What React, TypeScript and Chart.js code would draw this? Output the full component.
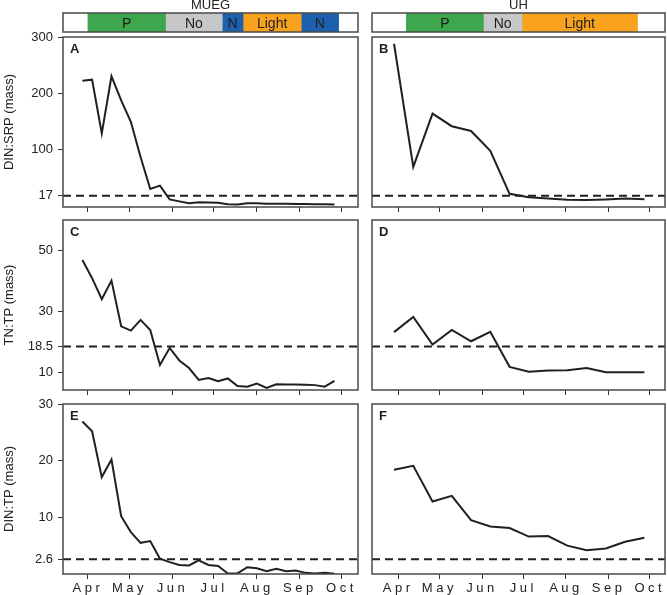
import React, { useEffect, useRef } from 'react';
import { Chart, registerables } from 'chart.js';

Chart.register(...registerables);

const FONT = "'Liberation Sans', Arial, sans-serif";
Chart.defaults.font.family = FONT;

// ---------- helpers (day offset from 1 April) ----------
const MONTH_START: Record<string, number> = { '03': -31, '04': 0, '05': 30, '06': 61, '07': 91, '08': 122, '09': 153, '10': 183 };
const day = (md: string) => MONTH_START[md.slice(0, 2)] + parseInt(md.slice(3), 10) - 1;

// ---------- axes ----------
const MONTH_TICK_DATES = ['04-01', '05-01', '06-01', '07-01', '08-01', '09-01', '10-01'];
const MONTH_LABELS = ['Apr', 'May', 'Jun', 'Jul', 'Aug', 'Sep', 'Oct'];
const MUEG_X_RANGE: [string, string] = ['03-14', '10-13'];
const UH_X_RANGE: [string, string] = ['03-13', '10-12'];

const SRP_TICKS = [17, 100, 200, 300];
const SRP_TICK_LABELS = ['17', '100', '200', '300'];
const TNTP_TICKS = [10, 18.5, 30, 50];
const TNTP_TICK_LABELS = ['10', '18.5', '30', '50'];
const DINTP_TICKS = [2.6, 10, 20, 30];
const DINTP_TICK_LABELS = ['2.6', '10', '20', '30'];

const SRP_RANGE: [number, number] = [-3, 300];
const TNTP_RANGE: [number, number] = [4.2, 60];
const DINTP_RANGE: [number, number] = [0, 30];

const SRP_THRESHOLD = 17;
const TNTP_THRESHOLD = 18.5;
const DINTP_THRESHOLD = 2.6;

// ---------- sampling dates ----------
const MUEG_DATES = ['03-28', '04-04', '04-11', '04-18', '04-25', '05-02', '05-09', '05-16', '05-23', '05-30',
  '06-06', '06-13', '06-20', '06-27', '07-04', '07-11', '07-18', '07-25', '08-01', '08-08', '08-15', '08-22',
  '08-29', '09-05', '09-12', '09-19', '09-26'];
const UH_DATES = ['03-29', '04-12', '04-26', '05-10', '05-24', '06-07', '06-21', '07-05', '07-19', '08-02',
  '08-16', '08-30', '09-13', '09-27'];

// ---------- series ----------
const MUEG_DIN_SRP = [222, 224, 128, 230, 187, 149, 86, 29, 35, 10.5, 7, 3.5, 5.5, 5, 4.5, 2, 1.5, 3.5, 3.5, 3, 3, 3, 2.5, 2.5, 2, 2, 1.5];
const UH_DIN_SRP = [288, 68.5, 163.5, 141, 132.5, 97, 20.5, 14.5, 12, 10, 9.5, 10.5, 12, 11];
const MUEG_TN_TP = [46.9, 40.9, 34, 40.1, 25.1, 23.7, 27.2, 23.9, 12.4, 18, 13.9, 11.4, 7.5, 8.1, 7.1, 8, 5.5, 5.3, 6.3, 4.9, 6.1, 6, 6, 5.9, 5.8, 5.3, 7.2];
const UH_TN_TP = [23.2, 28.2, 19.1, 23.9, 20.2, 23.3, 11.8, 10.2, 10.6, 10.7, 11.4, 10, 10, 10];
const MUEG_DIN_TP = [26.9, 25.2, 17.1, 20.2, 10.2, 7.4, 5.5, 5.8, 2.7, 2.1, 1.6, 1.5, 2.4, 1.6, 1.4, 0.1, 0.1, 1.2, 1.0, 0.5, 0.9, 0.5, 0.6, 0.2, 0.1, 0.2, 0.05];
const UH_DIN_TP = [18.4, 19.1, 12.8, 13.8, 9.5, 8.4, 8.1, 6.6, 6.7, 5.0, 4.2, 4.5, 5.7, 6.4];

// ---------- header segments ----------
const MUEG_SEG_LABELS = ['P', 'No', 'N', 'Light', 'N'];
const MUEG_SEG_START = ['04-01', '05-27', '07-07', '07-22', '09-02'];
const MUEG_SEG_END = ['05-27', '07-07', '07-22', '09-02', '09-29'];
const UH_SEG_LABELS = ['P', 'No', 'Light'];
const UH_SEG_START = ['04-07', '06-02', '06-30'];
const UH_SEG_END = ['06-02', '06-30', '09-22'];
const SEG_COLORS: Record<string, string> = { P: '#3ea64c', No: '#c6c7c9', N: '#1c60ae', Light: '#f8a21d' };

const INK = '#231f20';
const FRAME = '#4a4a4a';

type Area = { left: number; top: number; width: number; height: number };

function HeaderBar(props: { area: Area; xRange: [string, string]; labels: string[]; starts: string[]; ends: string[]; title: string }) {
  const ref = useRef<HTMLCanvasElement>(null);
  const { area, xRange, labels, starts, ends, title } = props;
  const padX = 2;
  const cw = area.width + padX * 2;
  const ch = area.top + area.height + 2;
  useEffect(() => {
    if (!ref.current) return;
    const plugin = {
      id: 'hdr',
      afterDraw(chart: any) {
        const { ctx, chartArea } = chart;
        const { left, top, right, bottom } = chartArea;
        const sx = chart.scales.x;
        ctx.save();
        ctx.strokeStyle = FRAME;
        ctx.lineWidth = 1.5;
        ctx.strokeRect(left, top, right - left, bottom - top);
        ctx.fillStyle = '#1e1e1e';
        ctx.font = `14px ${FONT}`;
        ctx.textAlign = 'center';
        ctx.textBaseline = 'alphabetic';
        labels.forEach((l, i) => {
          const cx = sx.getPixelForValue((day(starts[i]) + day(ends[i])) / 2);
          ctx.fillText(l, cx, top + (bottom - top) / 2 + 5.2);
        });
        ctx.font = `13px ${FONT}`;
        ctx.fillStyle = '#222';
        ctx.fillText(title, (left + right) / 2, top - 3.8);
        ctx.restore();
      },
    };
    const chart = new Chart(ref.current, {
      type: 'bar',
      data: {
        labels: [''],
        datasets: labels.map((l, i) => ({
          data: [[day(starts[i]), day(ends[i])]] as any,
          backgroundColor: SEG_COLORS[l],
          borderWidth: 0,
          barPercentage: 1,
          categoryPercentage: 1,
          grouped: false,
        })) as any,
      },
      options: {
        indexAxis: 'y',
        responsive: false,
        animation: false,
        events: [],
        layout: { padding: { left: padX, right: padX, top: area.top, bottom: 2 } },
        plugins: { legend: { display: false }, tooltip: { enabled: false } },
        scales: {
          x: { type: 'linear', min: day(xRange[0]), max: day(xRange[1]), display: false },
          y: { display: false },
        },
      },
      plugins: [plugin],
    });
    return () => chart.destroy();
  }, []);
  return (
    <canvas ref={ref} width={cw} height={ch}
      style={{ position: 'absolute', left: area.left - padX, top: 0, width: cw, height: ch }} />
  );
}

type PanelProps = {
  area: Area;
  xRange: [string, string];
  dates: string[];
  values: number[];
  threshold: number;
  yRange: [number, number];
  yTicks?: number[];
  yTickLabels?: string[];
  yTitle?: string;
  showXLabels: boolean;
  letter: string;
};

function Panel(p: PanelProps) {
  const ref = useRef<HTMLCanvasElement>(null);
  const hasY = !!p.yTicks;
  const yW = hasY ? p.area.left : 0;
  const padL = hasY ? 0 : 2;
  const padR = 2;
  const padT = 14;
  const xH = p.showXLabels ? 22 : 14;
  const cw = yW + padL + p.area.width + padR;
  const ch = padT + p.area.height + xH;
  const cLeft = p.area.left - yW - padL;
  const cTop = p.area.top - padT;

  useEffect(() => {
    if (!ref.current) return;
    const x0 = day(p.xRange[0]);
    const x1 = day(p.xRange[1]);
    const plugin = {
      id: 'frame',
      beforeDraw(chart: any) {
        const sx = chart.scales.x;
        if (p.showXLabels && !sx.__ls) {
          const orig = sx.drawLabels;
          sx.drawLabels = function (ca: any) {
            const c: any = chart.ctx;
            const prev = c.letterSpacing;
            c.letterSpacing = '3.5px';
            orig.call(this, ca);
            c.letterSpacing = prev || '0px';
          };
          sx.__ls = true;
        }
      },
      afterDraw(chart: any) {
        const { ctx, chartArea } = chart;
        const { left, top, right, bottom } = chartArea;
        ctx.save();
        ctx.strokeStyle = FRAME;
        ctx.lineWidth = 1.5;
        ctx.strokeRect(left, top, right - left, bottom - top);
        ctx.fillStyle = '#1e1e1e';
        ctx.font = `bold 13px ${FONT}`;
        ctx.textAlign = 'left';
        ctx.textBaseline = 'alphabetic';
        ctx.fillText(p.letter, left + 7, top + 15.5);
        ctx.restore();
      },
    };
    const yScale: any = hasY
      ? {
          type: 'linear',
          min: p.yRange[0],
          max: p.yRange[1],
          bounds: 'data',
          afterBuildTicks: (s: any) => { s.ticks = (p.yTicks as number[]).map((v) => ({ value: v })); },
          afterFit: (s: any) => { s.width = yW; },
          grid: { display: true, drawOnChartArea: false, drawTicks: true, tickLength: 5, color: '#333', lineWidth: 1 },
          border: { display: false },
          ticks: {
            padding: 5,
            color: '#222',
            font: { family: FONT, size: 13 },
            callback: (_v: any, i: number) => (p.yTickLabels as string[])[i],
          },
          title: {
            display: true,
            text: p.yTitle,
            color: '#222',
            font: { family: FONT, size: 13 },
            padding: { top: 2, bottom: 0 },
          },
        }
      : { type: 'linear', min: p.yRange[0], max: p.yRange[1], display: false };

    const chart = new Chart(ref.current, {
      type: 'line',
      data: {
        datasets: [
          {
            data: p.dates.map((d, i) => ({ x: day(d), y: p.values[i] })),
            borderColor: INK,
            borderWidth: 2,
            pointRadius: 0,
            tension: 0,
            fill: false,
            order: 1,
          },
          {
            data: [{ x: x0, y: p.threshold }, { x: x1, y: p.threshold }],
            borderColor: INK,
            borderWidth: 2,
            borderDash: [8, 5],
            pointRadius: 0,
            fill: false,
            order: 2,
          },
        ],
      },
      options: {
        responsive: false,
        animation: false,
        events: [],
        layout: { padding: { top: padT, right: padR, left: padL, bottom: 0 } },
        plugins: { legend: { display: false }, tooltip: { enabled: false } },
        scales: {
          x: {
            type: 'linear',
            min: x0,
            max: x1,
            bounds: 'data',
            afterBuildTicks: (s: any) => { s.ticks = MONTH_TICK_DATES.map((d) => ({ value: day(d) })); },
            afterFit: (s: any) => { s.height = xH; },
            grid: { display: true, drawOnChartArea: false, drawTicks: true, tickLength: 5, color: '#333', lineWidth: 1 },
            border: { display: false },
            ticks: {
              display: p.showXLabels,
              autoSkip: false,
              maxRotation: 0,
              padding: 2,
              color: '#222',
              font: { family: FONT, size: 13 },
              callback: (_v: any, i: number) => MONTH_LABELS[i],
            },
          },
          y: yScale,
        },
      } as any,
      plugins: [plugin],
    });
    return () => chart.destroy();
  }, []);

  return (
    <canvas ref={ref} width={cw} height={ch}
      style={{ position: 'absolute', left: cLeft, top: cTop, width: cw, height: ch }} />
  );
}

const LEFT_COL = { left: 63, width: 295 };
const RIGHT_COL = { left: 372, width: 293 };
const ROW_TOPS = [37, 220, 404];
const ROW_H = 170;

export default function App() {
  const L = (r: number): Area => ({ left: LEFT_COL.left, width: LEFT_COL.width, top: ROW_TOPS[r], height: ROW_H });
  const R = (r: number): Area => ({ left: RIGHT_COL.left, width: RIGHT_COL.width, top: ROW_TOPS[r], height: ROW_H });
  return (
    <div style={{ position: 'fixed', left: 0, top: 0, width: 667, height: 595, background: '#fff', overflow: 'hidden' }}>
      <HeaderBar area={{ left: LEFT_COL.left, width: LEFT_COL.width, top: 13, height: 19 }} xRange={MUEG_X_RANGE}
        labels={MUEG_SEG_LABELS} starts={MUEG_SEG_START} ends={MUEG_SEG_END} title="MUEG" />
      <HeaderBar area={{ left: RIGHT_COL.left, width: RIGHT_COL.width, top: 13, height: 19 }} xRange={UH_X_RANGE}
        labels={UH_SEG_LABELS} starts={UH_SEG_START} ends={UH_SEG_END} title="UH" />

      <Panel area={L(0)} xRange={MUEG_X_RANGE} dates={MUEG_DATES} values={MUEG_DIN_SRP} threshold={SRP_THRESHOLD}
        yRange={SRP_RANGE} yTicks={SRP_TICKS} yTickLabels={SRP_TICK_LABELS} yTitle="DIN:SRP (mass)" showXLabels={false} letter="A" />
      <Panel area={R(0)} xRange={UH_X_RANGE} dates={UH_DATES} values={UH_DIN_SRP} threshold={SRP_THRESHOLD}
        yRange={SRP_RANGE} showXLabels={false} letter="B" />

      <Panel area={L(1)} xRange={MUEG_X_RANGE} dates={MUEG_DATES} values={MUEG_TN_TP} threshold={TNTP_THRESHOLD}
        yRange={TNTP_RANGE} yTicks={TNTP_TICKS} yTickLabels={TNTP_TICK_LABELS} yTitle="TN:TP (mass)" showXLabels={false} letter="C" />
      <Panel area={R(1)} xRange={UH_X_RANGE} dates={UH_DATES} values={UH_TN_TP} threshold={TNTP_THRESHOLD}
        yRange={TNTP_RANGE} showXLabels={false} letter="D" />

      <Panel area={L(2)} xRange={MUEG_X_RANGE} dates={MUEG_DATES} values={MUEG_DIN_TP} threshold={DINTP_THRESHOLD}
        yRange={DINTP_RANGE} yTicks={DINTP_TICKS} yTickLabels={DINTP_TICK_LABELS} yTitle="DIN:TP (mass)" showXLabels={true} letter="E" />
      <Panel area={R(2)} xRange={UH_X_RANGE} dates={UH_DATES} values={UH_DIN_TP} threshold={DINTP_THRESHOLD}
        yRange={DINTP_RANGE} showXLabels={true} letter="F" />
    </div>
  );
}
